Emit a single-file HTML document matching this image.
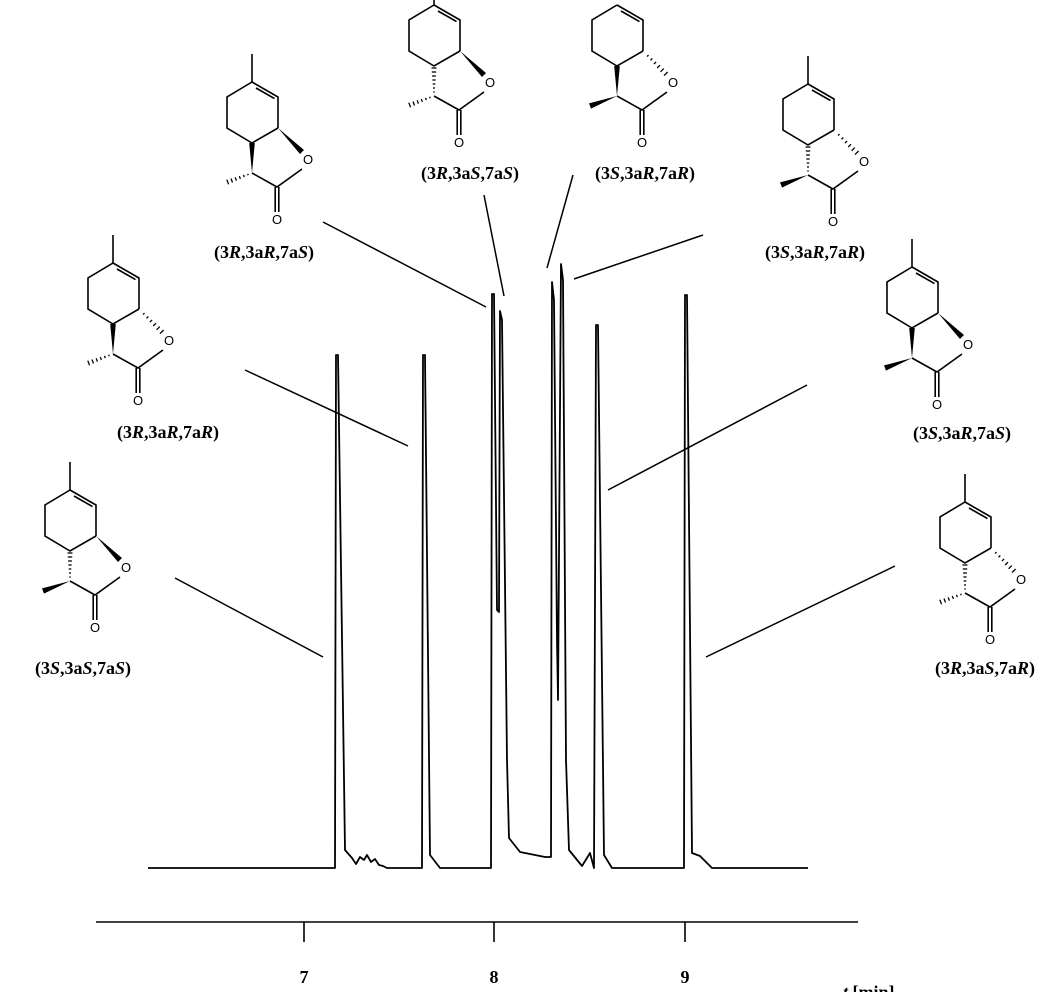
<!DOCTYPE html>
<html><head><meta charset="utf-8"><style>
html,body{margin:0;padding:0;background:#fff;}
svg{display:block;}
.l{font-family:"Liberation Serif",serif;font-weight:bold;font-size:18px;}
.o{font-family:"Liberation Sans",sans-serif;font-size:13px;}
</style></head><body>
<svg width="1056" height="992" viewBox="0 0 1056 992" xmlns="http://www.w3.org/2000/svg">
<defs>
<g id="base" fill="none" stroke="#000" stroke-width="1.6">
<polyline points="0,0 26,15 26,46"/>
<polyline points="26,46 0,61 -25,46 -25,15 0,0"/>
<line x1="4" y1="6" x2="22.5" y2="16.6"/>
<polyline points="0,91 25,105 50,87"/>
<line x1="23.2" y1="105" x2="23.2" y2="130"/>
<line x1="26.8" y1="105" x2="26.8" y2="130"/>
</g>
<line id="me" x1="0" y1="0" x2="0" y2="-28" stroke="#000" stroke-width="1.6"/>
<polygon id="w1" points="26,46 48,72 52,68" fill="#000"/>
<g id="h1" stroke="#000" stroke-width="1.3">
<line x1="30.1" y1="51.5" x2="31.5" y2="50.1"/><line x1="33.5" y1="55.3" x2="35.3" y2="53.5"/>
<line x1="36.9" y1="59.1" x2="39.1" y2="56.9"/><line x1="40.2" y1="63" x2="43" y2="60.2"/>
<line x1="43.6" y1="66.8" x2="46.8" y2="63.6"/><line x1="47" y1="70.6" x2="50.6" y2="67"/>
</g>
<polygon id="w2" points="-2.8,61 2.8,61 0,91" fill="#000"/>
<g id="h2" stroke="#000" stroke-width="1.3">
<line x1="-2.5" y1="63" x2="2.5" y2="63"/><line x1="-2.2" y1="67" x2="2.2" y2="67"/>
<line x1="-1.9" y1="71" x2="1.9" y2="71"/><line x1="-1.6" y1="75" x2="1.6" y2="75"/>
<line x1="-1.3" y1="79" x2="1.3" y2="79"/><line x1="-1" y1="83" x2="1" y2="83"/>
<line x1="-0.7" y1="87" x2="0.7" y2="87"/>
</g>
<polygon id="w3" points="0,91 -26,103.6 -28,98.4" fill="#000"/>
<g id="h3" stroke="#000" stroke-width="1.3">
<line x1="-3.76" y1="93.28" x2="-4.34" y2="91.72"/><line x1="-7.7" y1="95.1" x2="-8.5" y2="92.9"/>
<line x1="-11.6" y1="96.9" x2="-12.7" y2="94.1"/><line x1="-15.6" y1="98.7" x2="-16.8" y2="95.3"/>
<line x1="-19.5" y1="100.5" x2="-21" y2="96.5"/><line x1="-23.4" y1="102.3" x2="-25.2" y2="97.7"/>
</g>
</defs>

<g transform="translate(252,82)"><use href="#base"/><use href="#me"/><use href="#w1"/><use href="#w2"/><use href="#h3"/>
<text class="o" x="56" y="82" text-anchor="middle">O</text><text class="o" x="25" y="142" text-anchor="middle">O</text></g>
<text class="l" x="264" y="258" text-anchor="middle">(3<tspan font-style="italic">R</tspan>,3a<tspan font-style="italic">R</tspan>,7a<tspan font-style="italic">S</tspan>)</text>

<g transform="translate(434,5)"><use href="#base"/><use href="#me"/><use href="#w1"/><use href="#h2"/><use href="#h3"/>
<text class="o" x="56" y="82" text-anchor="middle">O</text><text class="o" x="25" y="142" text-anchor="middle">O</text></g>
<text class="l" x="470" y="179" text-anchor="middle">(3<tspan font-style="italic">R</tspan>,3a<tspan font-style="italic">S</tspan>,7a<tspan font-style="italic">S</tspan>)</text>

<g transform="translate(617,5)"><use href="#base"/><use href="#h1"/><use href="#w2"/><use href="#w3"/>
<text class="o" x="56" y="82" text-anchor="middle">O</text><text class="o" x="25" y="142" text-anchor="middle">O</text></g>
<text class="l" x="645" y="179" text-anchor="middle">(3<tspan font-style="italic">S</tspan>,3a<tspan font-style="italic">R</tspan>,7a<tspan font-style="italic">R</tspan>)</text>

<g transform="translate(808,84)"><use href="#base"/><use href="#me"/><use href="#h1"/><use href="#h2"/><use href="#w3"/>
<text class="o" x="56" y="82" text-anchor="middle">O</text><text class="o" x="25" y="142" text-anchor="middle">O</text></g>
<text class="l" x="815" y="258" text-anchor="middle">(3<tspan font-style="italic">S</tspan>,3a<tspan font-style="italic">R</tspan>,7a<tspan font-style="italic">R</tspan>)</text>

<g transform="translate(113,263)"><use href="#base"/><use href="#me"/><use href="#h1"/><use href="#w2"/><use href="#h3"/>
<text class="o" x="56" y="82" text-anchor="middle">O</text><text class="o" x="25" y="142" text-anchor="middle">O</text></g>
<text class="l" x="168" y="438" text-anchor="middle">(3<tspan font-style="italic">R</tspan>,3a<tspan font-style="italic">R</tspan>,7a<tspan font-style="italic">R</tspan>)</text>

<g transform="translate(70,490)"><use href="#base"/><use href="#me"/><use href="#w1"/><use href="#h2"/><use href="#w3"/>
<text class="o" x="56" y="82" text-anchor="middle">O</text><text class="o" x="25" y="142" text-anchor="middle">O</text></g>
<text class="l" x="83" y="674" text-anchor="middle">(3<tspan font-style="italic">S</tspan>,3a<tspan font-style="italic">S</tspan>,7a<tspan font-style="italic">S</tspan>)</text>

<g transform="translate(912,267)"><use href="#base"/><use href="#me"/><use href="#w1"/><use href="#w2"/><use href="#w3"/>
<text class="o" x="56" y="82" text-anchor="middle">O</text><text class="o" x="25" y="142" text-anchor="middle">O</text></g>
<text class="l" x="962" y="439" text-anchor="middle">(3<tspan font-style="italic">S</tspan>,3a<tspan font-style="italic">R</tspan>,7a<tspan font-style="italic">S</tspan>)</text>

<g transform="translate(965,502)"><use href="#base"/><use href="#me"/><use href="#h1"/><use href="#h2"/><use href="#h3"/>
<text class="o" x="56" y="82" text-anchor="middle">O</text><text class="o" x="25" y="142" text-anchor="middle">O</text></g>
<text class="l" x="985" y="674" text-anchor="middle">(3<tspan font-style="italic">R</tspan>,3a<tspan font-style="italic">S</tspan>,7a<tspan font-style="italic">R</tspan>)</text>

<g stroke="#000" stroke-width="1.5" fill="none">
<line x1="323" y1="222" x2="486" y2="307"/>
<line x1="484" y1="195" x2="504" y2="296"/>
<line x1="573" y1="175" x2="547" y2="268"/>
<line x1="703" y1="235" x2="574" y2="279"/>
<line x1="245" y1="370" x2="408" y2="446"/>
<line x1="807" y1="385" x2="608" y2="490"/>
<line x1="175" y1="578" x2="323" y2="657"/>
<line x1="895" y1="566" x2="706" y2="657"/>
</g>

<polyline fill="none" stroke="#000" stroke-width="1.8" stroke-linejoin="round" points="
148,868 335,868 336,355 338,355 345,850 352,858 356,864 360,857 364,860 367,855 371,862 375,859 379,865 383,866 387,868
422,868 423,355 425,355 430,855 440,868
491,868 492,294 494,294 497,610 499,612 500,311 502,320 507,760 509,838 520,852 545,857 551,857 552,282 554,300 557,640 558,700 561,264 563,280 566,760 569,850 582,866 590,853 594,868 596,325 598,325 604,855 612,868
684,868 685,295 687,295 692,853 700,856 712,868 808,868"/>

<g stroke="#000" stroke-width="1.6">
<line x1="96" y1="922" x2="858" y2="922"/>
<line x1="304" y1="922" x2="304" y2="942"/>
<line x1="494" y1="922" x2="494" y2="942"/>
<line x1="685" y1="922" x2="685" y2="942"/>
</g>
<text class="l" x="304" y="983" text-anchor="middle" font-size="20">7</text>
<text class="l" x="494" y="983" text-anchor="middle" font-size="20">8</text>
<text class="l" x="685" y="983" text-anchor="middle" font-size="20">9</text>
<text class="l" x="843" y="998" font-size="20"><tspan font-style="italic">t</tspan> [min]</text>
</svg>
</body></html>
